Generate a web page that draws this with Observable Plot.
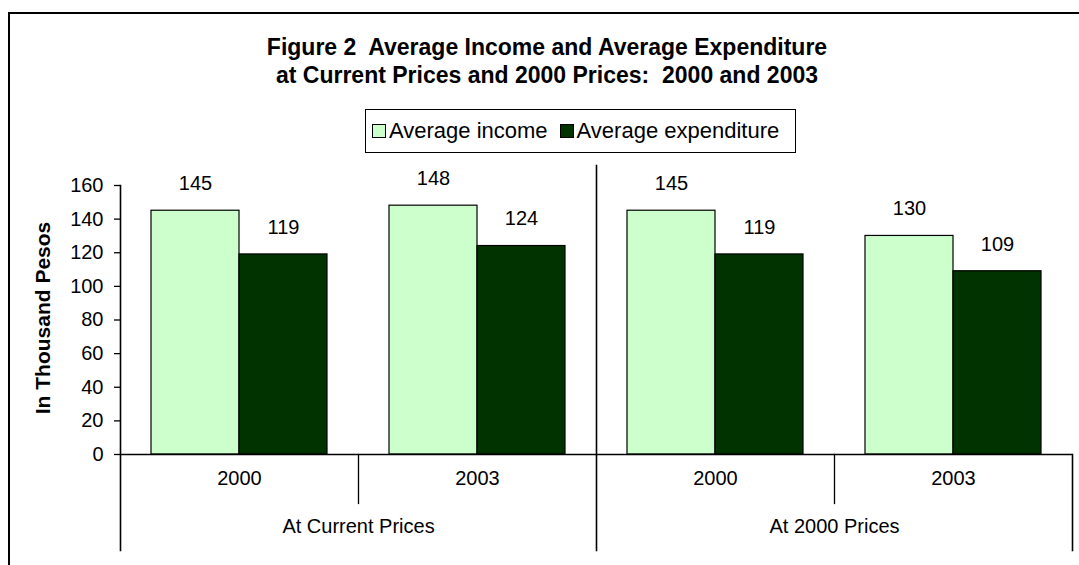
<!DOCTYPE html>
<html><head><meta charset="utf-8">
<script src="https://cdn.jsdelivr.net/npm/d3@7"></script>
<script src="https://cdn.jsdelivr.net/npm/@observablehq/plot@0.6"></script>
<style>
html,body{margin:0;padding:0;background:#fff;overflow:hidden;width:1079px;height:565px;}
body{font-family:"Liberation Sans",Arial,sans-serif;position:relative;color:#000;}
#outer{position:absolute;left:8px;top:12px;width:1200px;height:700px;border:2px solid #000;box-sizing:border-box;}
#title{position:absolute;left:0;width:1094px;top:33px;text-align:center;font-weight:bold;font-size:23px;line-height:28px;}
#legend{position:absolute;left:365px;top:109px;width:431px;height:44px;border:1.5px solid #000;box-sizing:border-box;display:flex;align-items:center;padding-left:6px;font-size:22px;}
#legend .sw{display:inline-block;width:12px;height:12px;border:1px solid #000;margin-right:3px;margin-top:-1px;}
#legend .it{display:flex;align-items:center;margin-right:12px;white-space:nowrap;}
#chart{position:absolute;left:0;top:155px;}
</style></head>
<body>
<div id="outer"></div>
<div id="title">Figure 2&nbsp; Average Income and Average Expenditure<br>at Current Prices and 2000 Prices:&nbsp; 2000 and 2003</div>
<div id="legend"></div>
<div id="chart"></div>
<script>
// ---- data ----
const groups = ["At Current Prices", "At 2000 Prices"];
const years = ["2000", "2003"];
const series = ["Average income", "Average expenditure"];
const colors = ["#CCFFCC", "#003300"];
const income = [145, 148, 145, 130];
const expenditure = [119, 124, 119, 109];
const yTicks = [0, 20, 40, 60, 80, 100, 120, 140, 160];
const yLabel = "In Thousand Pesos";

// ---- build table ----
const cats = [];
groups.forEach(g => years.forEach(y => cats.push({key: g + "|" + y, group: g, year: y})));
const rows = [];
cats.forEach((c, i) => {
  rows.push({cat: c.key, series: series[0], value: income[i]});
  rows.push({cat: c.key, series: series[1], value: expenditure[i]});
});
const groupLabels = groups.map((g, gi) => ({cat: cats[gi * years.length + 1].key, text: g}));

// ---- legend ----
const leg = document.getElementById("legend");
series.forEach((s, i) => {
  const it = document.createElement("span"); it.className = "it";
  const sw = document.createElement("span"); sw.className = "sw"; sw.style.background = colors[i];
  it.appendChild(sw); it.appendChild(document.createTextNode(s));
  leg.appendChild(it);
});

// ---- layout ----
const W = 1079, H = 410, mT = 30, mB = 111, mL = 120, mR = 7;
const plotH = H - mT - mB;
const font = "Liberation Sans, Arial, sans-serif";

const chart = Plot.plot({
  width: W, height: H,
  marginTop: mT, marginBottom: mB, marginLeft: mL, marginRight: mR,
  style: {fontFamily: font, color: "#000", background: "transparent", overflow: "visible"},
  fx: {domain: cats.map(c => c.key), padding: 0, axis: null},
  x: {domain: series, paddingInner: 0, paddingOuter: 0.352, axis: null},
  y: {domain: [0, 160]},
  color: {domain: series, range: colors},
  marks: [
    Plot.barY(rows, {fx: "cat", x: "series", y: "value", fill: "series", stroke: "#000", strokeWidth: 1.2}),
    Plot.text(rows, {fx: "cat", x: "series", y: "value", text: d => String(d.value), dy: -27, fontSize: 20, fill: "#000"}),
    Plot.ruleY([0], {stroke: "#000", strokeWidth: 1.6}),
    Plot.frame({anchor: "left", fx: [cats[0].key], insetBottom: -96, stroke: "#000", strokeWidth: 1.6}),
    Plot.frame({anchor: "left", fx: [cats[2].key], insetTop: -20, insetBottom: -96, stroke: "#000", strokeWidth: 1.6}),
    Plot.frame({anchor: "left", fx: [cats[1].key], insetTop: plotH, insetBottom: -49, stroke: "#000", strokeWidth: 1.3}),
    Plot.frame({anchor: "left", fx: [cats[3].key], insetTop: plotH, insetBottom: -49, stroke: "#000", strokeWidth: 1.3}),
    Plot.frame({anchor: "right", fx: [cats[3].key], insetTop: plotH, insetBottom: -96, stroke: "#000", strokeWidth: 1.6}),
    Plot.axisY(yTicks, {tickSize: 6, tickPadding: 11, fontSize: 20, label: null, stroke: "#000", strokeWidth: 1.3}),
    Plot.text(cats, {fx: "key", text: "year", frameAnchor: "bottom", dy: 30, fontSize: 20, fill: "#000"}),
    Plot.text(groupLabels, {fx: "cat", text: "text", frameAnchor: "bottom-left", textAnchor: "middle", dy: 78, fontSize: 20, fill: "#000"}),
    Plot.text([{cat: cats[0].key, t: yLabel}], {fx: "cat", text: "t", frameAnchor: "left", textAnchor: "middle", rotate: -90, dx: -77, dy: -2, fontSize: 21, fontWeight: "bold", fill: "#000"})
  ]
});
document.getElementById("chart").appendChild(chart);
</script>
</body></html>
